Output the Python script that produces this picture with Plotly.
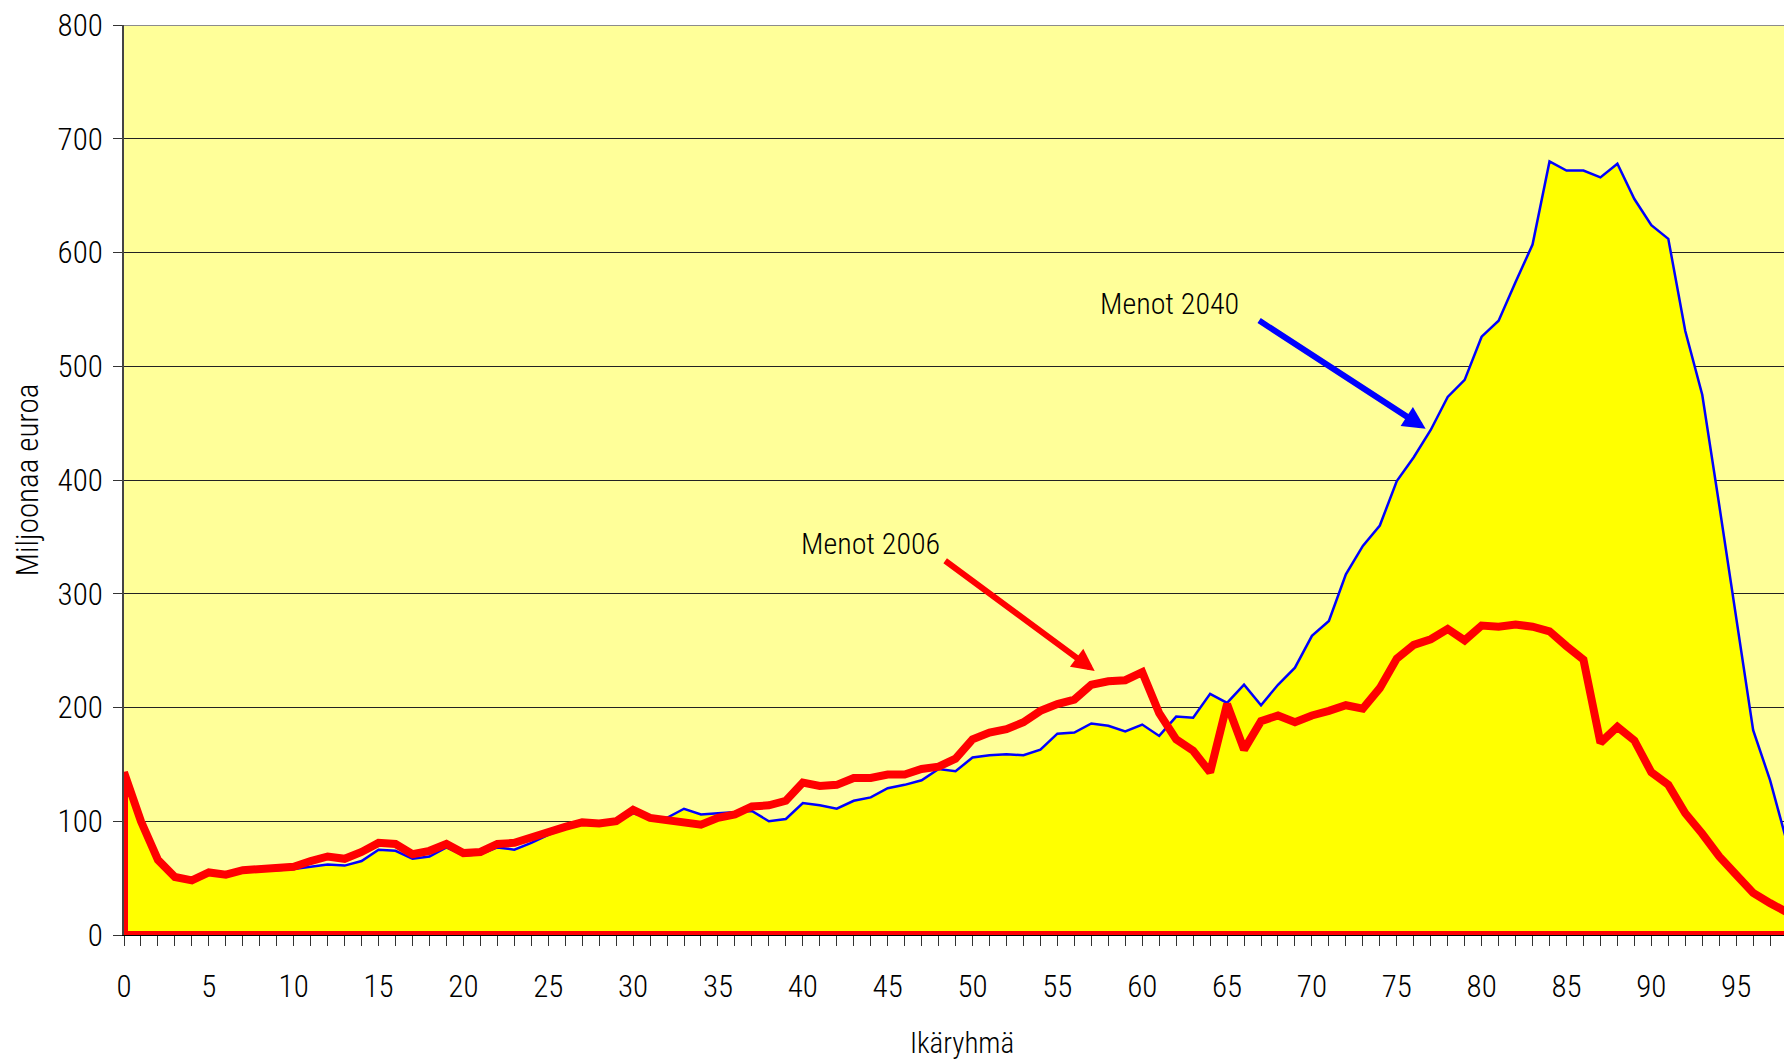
import plotly.graph_objects as go

ages = list(range(0, 100))

menot_2006 = [143, 100, 66, 51, 48, 55, 53, 57, 58, 59,
              60, 65, 69, 67, 73, 81, 80, 71, 74, 80,
              72, 73, 80, 81, 86, 90, 95, 99, 98, 100,
              110, 103, 101, 99, 97, 103, 106, 113, 114, 118,
              134, 131, 132, 138, 138, 141, 141, 146, 148, 155,
              172, 178, 181, 187, 197, 203, 207, 220, 223, 224,
              231, 195, 172, 162, 143, 203, 163, 188, 193, 187,
              193, 197, 202, 199, 217, 243, 255, 260, 269, 259,
              272, 271, 273, 271, 267, 254, 242, 169, 183, 171,
              143, 132, 107, 89, 69, 53, 37, 28, 20, 29]

menot_2040 = [142, 99, 65, 50, 47, 54, 52, 56, 57, 57,
              58, 60, 62, 61, 65, 75, 74, 67, 69, 77,
              70, 71, 77, 75, 81, 88, 94, 98, 98, 99,
              107, 103, 103, 111, 106, 107, 108, 109, 100, 102,
              116, 114, 111, 118, 121, 129, 132, 136, 146, 144,
              156, 158, 159, 158, 163, 177, 178, 186, 184, 179,
              185, 175, 192, 191, 212, 204, 220, 202, 220, 235,
              263, 276, 317, 342, 360, 399, 420, 444, 473, 488,
              526, 540, 574, 607, 680, 672, 672, 666, 678, 647,
              624, 612, 531, 475, 378, 280, 180, 136, 81, 210]

x_tick_vals = list(range(0, 100, 5))
y_tick_vals = list(range(0, 900, 100))

FONT = "Roboto Condensed, DejaVu Sans Condensed, sans-serif"
W = 300

fig = go.Figure()

# 2040 area: yellow fill, blue outline
fig.add_trace(go.Scatter(
    x=ages, y=menot_2040, mode="lines",
    line=dict(color="#0000FF", width=2.5),
    fill="tozeroy", fillcolor="#FFFF00",
    name="Menot 2040", showlegend=False, hoverinfo="x+y"))

# 2006 area: red outline only
poly_x = [ages[0]] + ages + [ages[-1], ages[0]]
poly_y = [0] + menot_2006 + [0, 0]
fig.add_trace(go.Scatter(
    x=poly_x, y=poly_y, mode="lines",
    line=dict(color="#FF0000", width=8),
    name="Menot 2006", showlegend=False, hoverinfo="x+y"))

# top border of plot area
fig.add_shape(type="line", xref="paper", yref="y", x0=0, x1=1, y0=800, y1=800,
              line=dict(color="#8c8c8c", width=2), layer="above")

fig.add_annotation(x=61.6, y=555, xref="x", yref="y",
                   text="Menot 2040", showarrow=False,
                   font=dict(family=FONT, size=30, color="#000000", weight=W))
fig.add_annotation(x=44.0, y=344, xref="x", yref="y",
                   text="Menot 2006", showarrow=False,
                   font=dict(family=FONT, size=30, color="#000000", weight=W))
fig.add_annotation(x=76.7, y=445, ax=66.8, ay=541, xref="x", yref="y",
                   axref="x", ayref="y", text="", showarrow=True,
                   arrowhead=2, arrowsize=0.75, arrowwidth=6, arrowcolor="#0000FF",
                   standoff=0, startstandoff=0)
fig.add_annotation(x=57.2, y=232, ax=48.3, ay=330, xref="x", yref="y",
                   axref="x", ayref="y", text="", showarrow=True,
                   arrowhead=2, arrowsize=0.75, arrowwidth=6, arrowcolor="#FF0000",
                   standoff=0, startstandoff=0)

fig.update_layout(
    width=1792, height=1062,
    margin=dict(l=116, r=0, t=17, b=135, autoexpand=False),
    paper_bgcolor="#FFFFFF", plot_bgcolor="#FFFF99",
    font=dict(family=FONT, size=31, color="#000000", weight=W),
    showlegend=False,
)

fig.update_xaxes(
    automargin=False,
    range=[0, 98.76], tickmode="array", tickvals=x_tick_vals,
    ticks="outside", ticklen=10, tickwidth=1, tickcolor="#333333",
    minor=dict(dtick=1, tick0=0, ticks="outside", ticklen=10, tickwidth=1, tickcolor="#333333", showgrid=False),
    showgrid=False, zeroline=False,
    showline=True, linecolor="#000000", linewidth=1,
    tickfont=dict(family=FONT, size=31, color="#000000", weight=W),
    ticklabelstandoff=14, ticklabeloverflow="allow",
    title=dict(text="Ikäryhmä", font=dict(family=FONT, size=29, color="#000000", weight=W), standoff=28),
)

fig.update_yaxes(
    automargin=False,
    range=[0, 800], tickmode="array", tickvals=y_tick_vals,
    ticks="outside", ticklen=9, tickwidth=1, tickcolor="#333333",
    showgrid=True, gridcolor="#222222", gridwidth=1,
    zeroline=False, showline=True, linecolor="#444444", linewidth=2,
    tickfont=dict(family=FONT, size=31, color="#000000", weight=W),
    ticklabelstandoff=4, ticklabeloverflow="allow",
    title=dict(text="Miljoonaa euroa", font=dict(family=FONT, size=31, color="#000000", weight=W), standoff=10),
)

fig.write_html("out.html")
